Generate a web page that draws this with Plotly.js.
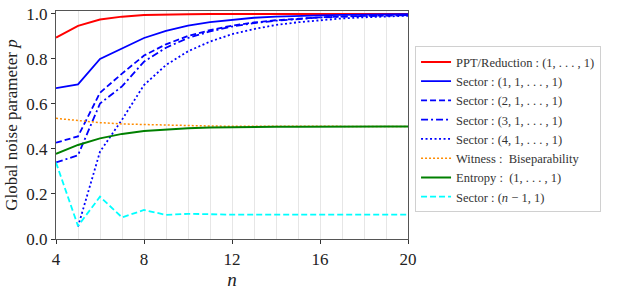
<!DOCTYPE html>
<html>
<head>
<meta charset="utf-8">
<script src="https://cdn.plot.ly/plotly-3.0.1.min.js"></script>
<style>html,body{margin:0;padding:0;background:#fff;}#chart{width:618px;height:293px;}</style>
</head>
<body>
<div id="chart"></div>
<script>
const nValues = [4,5,6,7,8,9,10,11,12,13,14,15,16,17,18,19,20];
const pptReduction = [0.895,0.947,0.975,0.988,0.995,0.998,0.999,1,1,1,1,1,1,1,1,1,1];
const sector1 = [0.670,0.687,0.800,0.847,0.893,0.925,0.948,0.964,0.975,0.983,0.988,0.992,0.994,0.996,0.997,0.998,0.999];
const sector2 = [0.428,0.456,0.650,0.735,0.815,0.865,0.902,0.928,0.948,0.962,0.972,0.979,0.985,0.989,0.992,0.994,0.995];
const sector3 = [0.340,0.372,0.602,0.678,0.788,0.850,0.893,0.922,0.944,0.959,0.970,0.978,0.984,0.988,0.991,0.993,0.995];
const sector4 = [null,0.055,0.388,0.530,0.684,0.773,0.834,0.877,0.910,0.933,0.951,0.963,0.973,0.980,0.985,0.989,0.992];
const witness = [0.536,0.526,0.517,0.511,0.508,0.505,0.503,0.502,0.501,0.501,0.500,0.500,0.500,0.500,0.500,0.500,0.500];
const entropy = [0.378,0.418,0.447,0.467,0.480,0.487,0.492,0.495,0.497,0.498,0.499,0.499,0.500,0.500,0.500,0.500,0.500];
const sectorN1 = [0.340,0.058,0.188,0.096,0.129,0.107,0.112,0.109,0.108,0.108,0.108,0.108,0.108,0.108,0.108,0.108,0.108];

const seriesNames = [
  "PPT/Reduction : (1, . . . , 1)",
  "Sector : (1, 1, . . . , 1)",
  "Sector : (2, 1, . . . , 1)",
  "Sector : (3, 1, . . . , 1)",
  "Sector : (4, 1, . . . , 1)",
  "Witness :  Biseparability",
  "Entropy :  (1, . . . , 1)",
  "Sector : (<i>n</i> − 1, 1)"
];
const xTicks = [4,8,12,16,20];
const yTicks = [0,0.2,0.4,0.6,0.8,1.0];
const yTickLabels = ["0.0","0.2","0.4","0.6","0.8","1.0"];

function tr(y, name, color, dash, width){
  return {x:nValues, y:y, name:name, type:'scatter', mode:'lines',
    line:{color:color, dash:dash, width:width}, connectgaps:false};
}
const data = [
  tr(pptReduction, seriesNames[0], '#ff0000', 'solid', 2),
  tr(sector1, seriesNames[1], '#0000ff', 'solid', 1.8),
  tr(sector2, seriesNames[2], '#0000ff', '6px,3px', 1.8),
  tr(sector3, seriesNames[3], '#0000ff', '7px,3px,2px,3px', 1.8),
  tr(sector4, seriesNames[4], '#0000ff', '2px,2.5px', 1.8),
  tr(witness, seriesNames[5], '#ff8c00', '2px,2px', 1.5),
  tr(entropy, seriesNames[6], '#008000', 'solid', 2),
  tr(sectorN1, seriesNames[7], '#00ffff', '6px,3px', 1.8)
];
const font = "Liberation Serif";
const layout = {
  width:618, height:293,
  margin:{l:56, r:210, t:11, b:54},
  paper_bgcolor:'#fff', plot_bgcolor:'#fff',
  font:{family:font, color:'#222', size:15},
  showlegend:true,
  legend:{x:1.02, xanchor:'left', y:0.845, yanchor:'top', bgcolor:'#fff',
    bordercolor:'#d0d0d0', borderwidth:1, font:{family:font, size:12.5, color:'#333'},
    tracegroupgap:0, itemwidth:30},
  xaxis:{range:[4,20], tickvals:xTicks, ticktext:xTicks.map(String), ticks:'outside', ticklen:4, tickcolor:'#333',
    showline:true, mirror:true, linecolor:'#555', linewidth:1.2, zeroline:false,
    showgrid:true, gridcolor:'#e6e6e6', gridwidth:1,
    minor:{dtick:1, showgrid:true, gridcolor:'#e6e6e6', gridwidth:1, ticks:''},
    tickfont:{size:17, family:font, color:'#222'},
    title:{text:'<i>n</i>', font:{size:19, family:font, color:'#222'}, standoff:0}},
  yaxis:{range:[0,1.013], tickvals:yTicks, ticktext:yTickLabels, ticks:'outside', ticklen:4, tickcolor:'#333',
    showline:true, mirror:true, linecolor:'#555', linewidth:1.2, zeroline:false, showgrid:false,
    tickfont:{size:17, family:font, color:'#222'},
    title:{text:'Global noise parameter <i>p</i>', font:{size:17, family:font, color:'#222'}, standoff:4}}
};
Plotly.newPlot('chart', data, layout, {displayModeBar:false, staticPlot:true});
</script>
</body>
</html>
